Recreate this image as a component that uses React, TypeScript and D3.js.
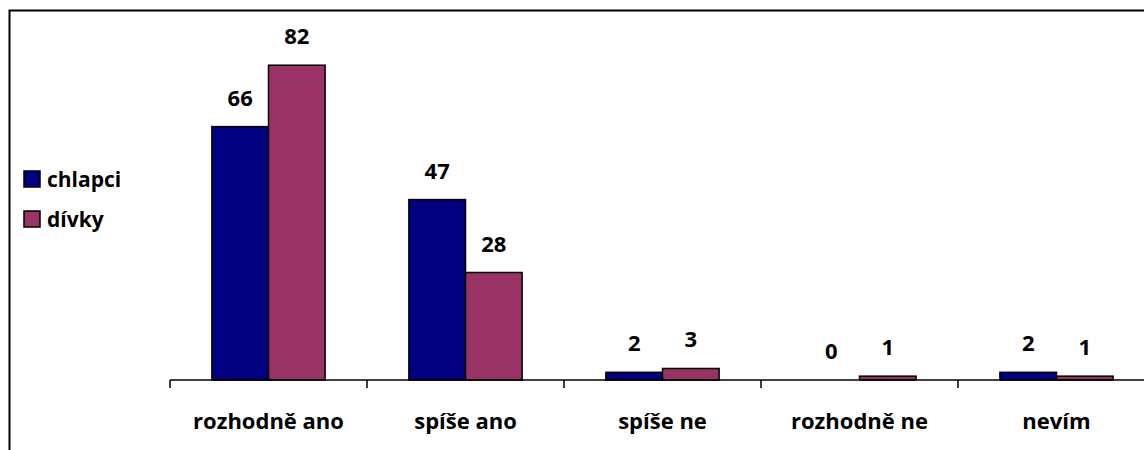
import React from "react";
import * as d3 from "d3";

const categories = ["rozhodně ano", "spíše ano", "spíše ne", "rozhodně ne", "nevím"];
const seriesNames = ["chlapci", "dívky"];
const chlapci = [66, 47, 2, 0, 2];
const divky = [82, 28, 3, 1, 1];
const seriesColors = ["#000080", "#993366"];

const W = 1144;
const H = 450;
const FONT = "'Open Sans', sans-serif";

export default function App() {
  const values = [chlapci, divky];
  const x0 = d3.scaleBand<string>().domain(categories).range([170, 1155]).paddingInner(0).paddingOuter(0);
  const x1 = d3.scaleBand<string>().domain(seriesNames).range([0, x0.bandwidth()]).paddingInner(0).paddingOuter(0.74);
  const y = d3.scaleLinear().domain([0, 90]).range([380, 34.5]);
  const ticks = categories.map((c) => x0(c)!).concat([x0(categories[categories.length - 1])! + x0.bandwidth()]);

  return (
    <svg width={W} height={H} style={{ position: "absolute", left: 0, top: 0, display: "block", background: "#fff" }}>
      <rect x={9.5} y={10.5} width={1300} height={600} fill="none" stroke="#000" strokeWidth={2} />
      {categories.map((c, i) => (
        <g key={c}>
          {seriesNames.map((s, j) => {
            const v = values[j][i];
            const bx = x0(c)! + x1(s)!;
            const bw = x1.bandwidth();
            return (
              <g key={s}>
                {v > 0 && (
                  <rect x={bx} y={y(v)} width={bw} height={y(0) - y(v)} fill={seriesColors[j]} stroke="#000" strokeWidth={1.5} />
                )}
                <text x={bx + bw / 2} y={y(v) - 21} textAnchor="middle" fontFamily={FONT} fontWeight="bold" fontSize={22} fill="#000">
                  {v}
                </text>
              </g>
            );
          })}
          <text x={x0(c)! + x0.bandwidth() / 2} y={429} textAnchor="middle" fontFamily={FONT} fontWeight="bold" fontSize={22} fill="#000">
            {c}
          </text>
        </g>
      ))}
      <line x1={170} x2={W} y1={y(0)} y2={y(0)} stroke="#000" strokeWidth={1.5} />
      {ticks.map((t, i) => (
        <line key={i} x1={t} x2={t} y1={y(0)} y2={y(0) + 8} stroke="#000" strokeWidth={1.5} />
      ))}
      {seriesNames.map((s, j) => (
        <g key={s}>
          <rect x={24} y={171 + j * 40} width={16} height={16} fill={seriesColors[j]} stroke="#000" strokeWidth={1.5} />
          <text x={47} y={187 + j * 40} fontFamily={FONT} fontWeight="bold" fontSize={21} fill="#000">
            {s}
          </text>
        </g>
      ))}
    </svg>
  );
}
